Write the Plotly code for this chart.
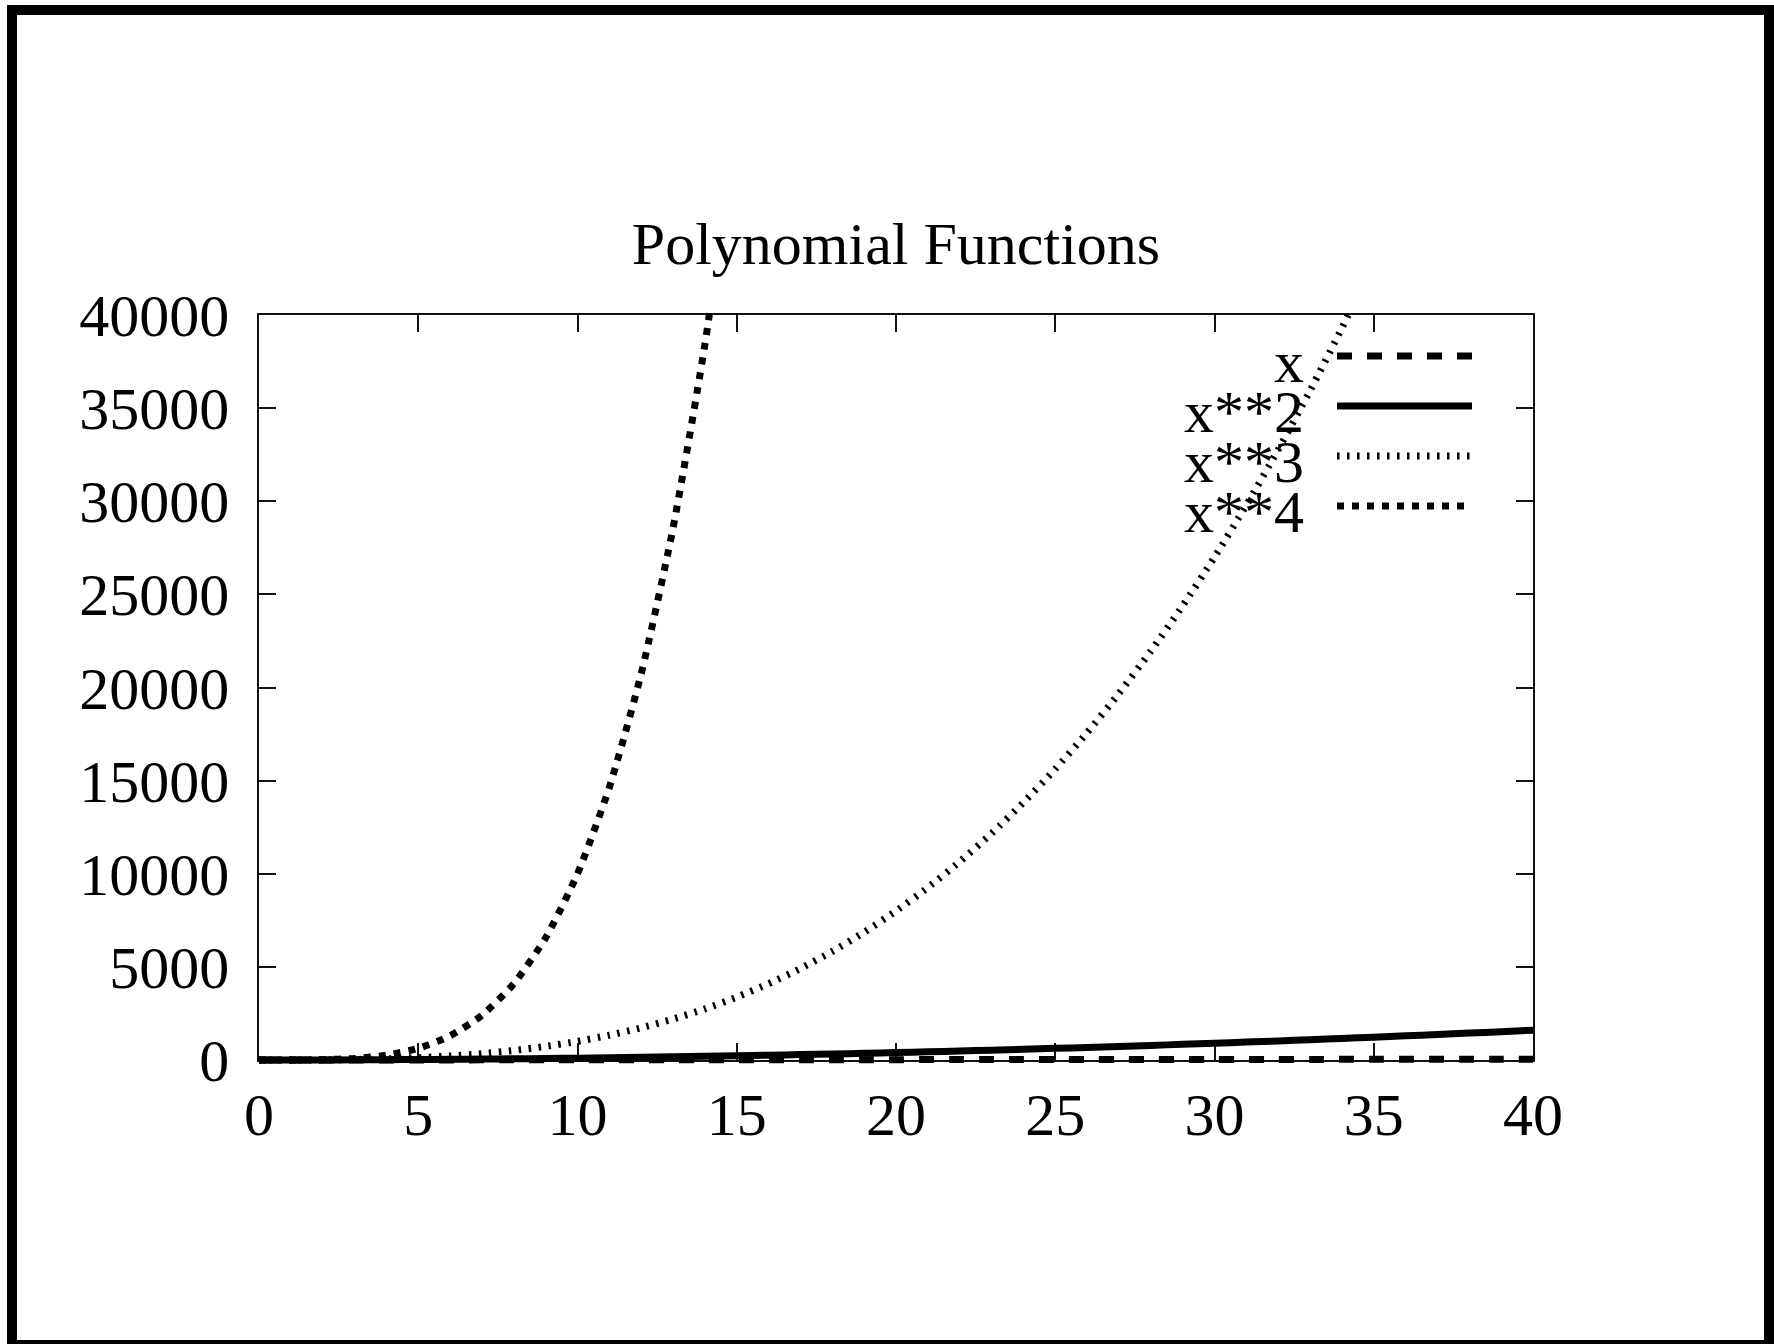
import plotly.graph_objects as go

# ---------------- data ----------------
x_vals = [0, 1, 2, 3, 4, 5, 6, 7, 8, 9, 10, 11, 12, 13, 14, 15, 16, 17, 18, 19, 20,
          21, 22, 23, 24, 25, 26, 27, 28, 29, 30, 31, 32, 33, 34, 35, 36, 37, 38, 39, 40]
y_x1 = [0, 1, 2, 3, 4, 5, 6, 7, 8, 9, 10, 11, 12, 13, 14, 15, 16, 17, 18, 19, 20,
        21, 22, 23, 24, 25, 26, 27, 28, 29, 30, 31, 32, 33, 34, 35, 36, 37, 38, 39, 40]
y_x2 = [0, 1, 4, 9, 16, 25, 36, 49, 64, 81, 100, 121, 144, 169, 196, 225, 256, 289, 324,
        361, 400, 441, 484, 529, 576, 625, 676, 729, 784, 841, 900, 961, 1024, 1089, 1156,
        1225, 1296, 1369, 1444, 1521, 1600]
y_x3 = [0, 1, 8, 27, 64, 125, 216, 343, 512, 729, 1000, 1331, 1728, 2197, 2744, 3375, 4096,
        4913, 5832, 6859, 8000, 9261, 10648, 12167, 13824, 15625, 17576, 19683, 21952, 24389,
        27000, 29791, 32768, 35937, 39304, 42875]
y_x4 = [0, 1, 16, 81, 256, 625, 1296, 2401, 4096, 6561, 10000, 14641, 20736, 28561, 38416, 50625]
series_names = ["x", "x**2", "x**3", "x**4"]
x_ticks = [0, 5, 10, 15, 20, 25, 30, 35, 40]
y_ticks = [0, 5000, 10000, 15000, 20000, 25000, 30000, 35000, 40000]

# ---------------- styles / layout ----------------
W, H = 1774, 1344
AX_L, AX_R, AX_T, AX_B = 259, 1533, 315, 1060   # visible axes box (px)
PAD = 4                                          # lines are clipped a little outside the box
PL, PR, PT, PB = AX_L - PAD, AX_R + PAD, AX_T - PAD, AX_B + PAD
FONT = "Liberation Serif"
FS = 60
XMAX, YMAX = 40, 40000

def px(xp):
    return (xp - PL) / (PR - PL)

def py(yp):
    return (PB - yp) / (PB - PT)

dx = PAD * XMAX / (AX_R - AX_L)
dy = PAD * YMAX / (AX_B - AX_T)

styles = [
    dict(width=7, dash="15px,15px"),
    dict(width=7, dash="solid"),
    dict(width=7, dash="2.5px,7.5px"),
    dict(width=7, dash="7px,8px"),
]
data_x = [x_vals, x_vals, x_vals[:len(y_x3)], x_vals[:len(y_x4)]]
data_y = [y_x1, y_x2, y_x3, y_x4]

fig = go.Figure()

# invisible trace so the visible axes subplot exists
fig.add_trace(go.Scatter(x=[None], y=[None], mode="lines", showlegend=False, hoverinfo="skip",
                         xaxis="x", yaxis="y"))

for name, xs, ys, st in zip(series_names, data_x, data_y, styles):
    fig.add_trace(go.Scatter(
        x=xs, y=ys, mode="lines", name=name, showlegend=False,
        line=dict(color="black", width=st["width"], dash=st["dash"], shape="spline", smoothing=0.6),
        xaxis="x2", yaxis="y2",
    ))

axis_common = dict(
    showgrid=False, zeroline=False, showline=True, linecolor="#111", linewidth=1.5,
    ticks="inside", ticklen=17, tickwidth=1.5, tickcolor="#111", mirror="ticks",
    tickfont=dict(family=FONT, size=FS, color="black"),
)

fig.update_layout(
    width=W, height=H, autosize=False,
    paper_bgcolor="white", plot_bgcolor="rgba(0,0,0,0)",
    margin=dict(l=PL, r=W - PR, t=PT, b=H - PB, pad=0),
    showlegend=False,
    title=dict(text="Polynomial Functions", x=px((AX_L + AX_R) / 2), xref="paper", xanchor="center",
               y=1 - 243 / H, yref="container", yanchor="middle",
               font=dict(family=FONT, size=FS, color="black")),
    xaxis=dict(axis_common, domain=[px(AX_L), px(AX_R)], range=[0, XMAX],
               tickvals=x_ticks, ticktext=[str(v) for v in x_ticks], anchor="y",
               ticklabelstandoff=1),
    yaxis=dict(axis_common, domain=[py(AX_B), py(AX_T)], range=[0, YMAX],
               tickvals=y_ticks, ticktext=[str(v) for v in y_ticks], anchor="x",
               ticklabelstandoff=16),
    xaxis2=dict(domain=[0, 1], range=[-dx, XMAX + dx], visible=False, anchor="y2"),
    yaxis2=dict(domain=[0, 1], range=[-dy, YMAX + dy], visible=False, anchor="x2"),
)

# custom legend: text on the left, line sample on the right
row_y = [356, 406, 456, 506]
for name, st, ry in zip(series_names, styles, row_y):
    fig.add_shape(type="line", xref="paper", yref="paper",
                  x0=px(1337), x1=px(1472), y0=py(ry), y1=py(ry),
                  line=dict(color="black", width=st["width"], dash=st["dash"]))
    fig.add_annotation(text=name, xref="paper", yref="paper", x=px(1306), y=py(ry + 6),
                       xanchor="right", yanchor="middle", showarrow=False,
                       font=dict(family=FONT, size=FS, color="black"))

# outer frame
fig.add_shape(type="rect", xref="paper", yref="paper",
              x0=px(12), x1=px(1769), y0=py(1345), y1=py(10),
              line=dict(color="black", width=10), fillcolor="rgba(0,0,0,0)", layer="above")

fig.write_html("out.html", config={"displayModeBar": False},
               post_script="document.body.style.margin='0px';document.body.style.overflow='hidden';")
